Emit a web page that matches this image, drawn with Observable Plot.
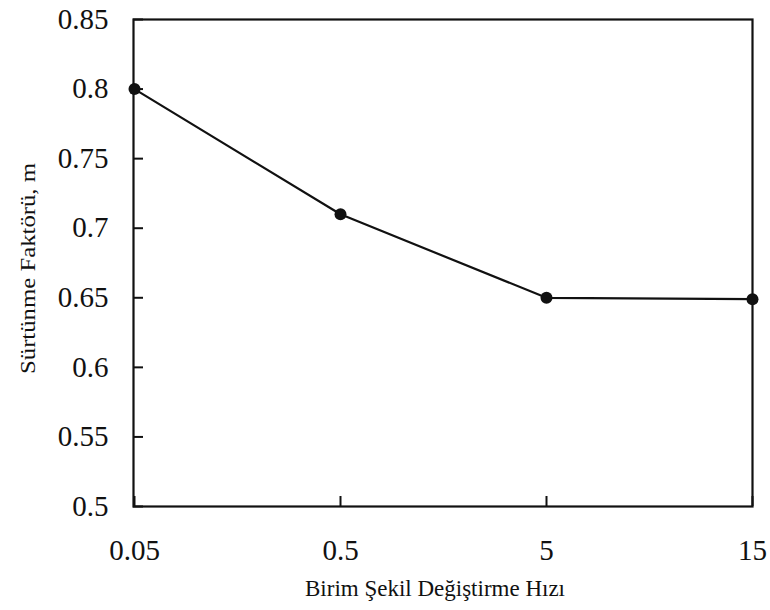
<!DOCTYPE html>
<html>
<head>
<meta charset="utf-8">
<script src="https://cdn.jsdelivr.net/npm/d3@7"></script>
<script src="https://cdn.jsdelivr.net/npm/@observablehq/plot@0.6"></script>
<style>
  html, body { margin: 0; padding: 0; background: #fff; }
  #chart svg { display: block; }
</style>
</head>
<body>
<div id="chart"></div>
<script>
// Strain rate categories (evenly spaced) and friction factor values
const strainRates = ["0.05", "0.5", "5", "15"];
const frictionFactor = [0.80, 0.71, 0.65, 0.649];
const yTicks = [0.5, 0.55, 0.6, 0.65, 0.7, 0.75, 0.8, 0.85];
const yTickLabels = ["0.5", "0.55", "0.6", "0.65", "0.7", "0.75", "0.8", "0.85"];
const xTitle = "Birim Şekil Değiştirme Hızı";
const yTitle = "Sürtünme Faktörü, m";

const data = strainRates.map((r, i) => ({rate: r, m: frictionFactor[i]}));
const serif = "Liberation Serif, Times New Roman, serif";
const ink = "#111";

const chart = Plot.plot({
  width: 770,
  height: 610,
  marginLeft: 133,
  marginRight: 18,
  marginTop: 19,
  marginBottom: 104,
  style: {fontFamily: serif, color: ink, background: "#fff"},
  x: {type: "point", domain: strainRates, padding: 0},
  y: {domain: [0.5, 0.85]},
  marks: [
    // inward tick marks (negative size points them into the frame; labels hidden)
    Plot.axisY(yTicks, {anchor: "left", tickSize: -10, strokeWidth: 2, stroke: ink,
      fill: "none", label: null}),
    Plot.axisX(strainRates, {anchor: "bottom", tickSize: -10, strokeWidth: 2, stroke: ink,
      fill: "none", label: null}),
    // tick labels
    Plot.axisY(yTicks, {anchor: "left", tickSize: 0, tickPadding: 25, fontSize: 29,
      fontFamily: serif, fontVariant: "normal",
      tickFormat: (d) => yTickLabels[yTicks.indexOf(d)], fill: ink, label: null}),
    Plot.axisX(strainRates, {anchor: "bottom", tickSize: 0, tickPadding: 33, fontSize: 29,
      fontFamily: serif, fontVariant: "normal", fill: ink, label: null}),
    Plot.frame({stroke: ink, strokeWidth: 2.2}),
    Plot.line(data, {x: "rate", y: "m", stroke: ink, strokeWidth: 2.2}),
    Plot.dot(data, {x: "rate", y: "m", r: 6, fill: ink, stroke: "none"}),
    // axis titles
    Plot.text([xTitle], {frameAnchor: "bottom", text: (d) => d, dy: 82, dx: -8,
      textAnchor: "middle", lineAnchor: "middle",
      fontSize: 23, fontFamily: serif, fill: ink}),
    Plot.text([yTitle], {frameAnchor: "left", text: (d) => d, rotate: -90, dx: -105.5, dy: 5.5,
      textAnchor: "middle", lineAnchor: "middle",
      fontSize: 22, fontFamily: serif, fill: ink})
  ]
});

// the vertical title is set slightly condensed across
d3.select(chart).selectAll("text")
  .filter(function () { return this.textContent === yTitle; })
  .attr("textLength", 211)
  .attr("lengthAdjust", "spacingAndGlyphs");

document.getElementById("chart").appendChild(chart);
</script>
</body>
</html>
